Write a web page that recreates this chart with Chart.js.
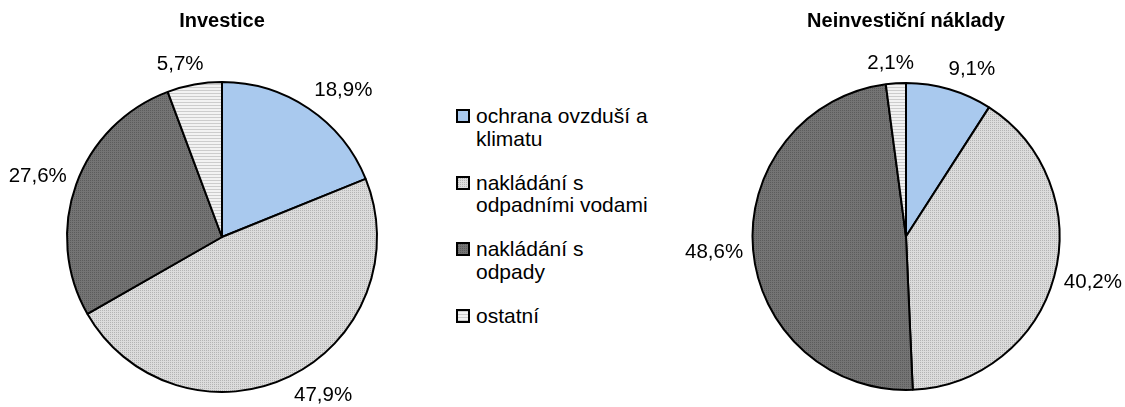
<!DOCTYPE html>
<html>
<head>
<meta charset="utf-8">
<script src="https://cdn.jsdelivr.net/npm/chart.js@4"></script>
<style>
  body { margin: 0; background: #fff; width: 1125px; height: 407px; overflow: hidden; position: relative;
         font-family: 'Liberation Sans', Arial, sans-serif; }
  canvas.pie { position: absolute; top: 0; }
  #legend { position: absolute; left: 456px; top: 105px; font-size: 21px; line-height: 22.5px; color: #000; }
  .item { display: flex; align-items: flex-start; margin-bottom: 21.5px; }
  .sw { width: 10px; height: 10px; border: 2px solid #000; margin-top: 4px; margin-right: 6px; flex: none; }
</style>
</head>
<body>
<canvas id="invChart" class="pie" width="445" height="407" style="left:0"></canvas>
<canvas id="neinvChart" class="pie" width="445" height="407" style="left:680px"></canvas>
<div id="legend"></div>

<script>
const FONT = "'Liberation Sans', Arial, sans-serif";

const categories = ['ochrana ovzduší a klimatu', 'nakládání s odpadními vodami', 'nakládání s odpady', 'ostatní'];
const legendLines = [['ochrana ovzduší a', 'klimatu'], ['nakládání s', 'odpadními vodami'], ['nakládání s', 'odpady'], ['ostatní']];
const investice = [18.9, 47.9, 27.6, 5.7];
const neinvesticni = [9.1, 40.2, 48.6, 2.1];

// small tiles for the hatched fills
function tile(w, h, draw) {
  const c = document.createElement('canvas');
  c.width = w; c.height = h;
  draw(c.getContext('2d'));
  return c;
}
const tiles = [
  tile(2, 2, g => { g.fillStyle = '#a9c9ee'; g.fillRect(0, 0, 2, 2); }),
  tile(2, 2, g => { g.fillStyle = '#dcdcdc'; g.fillRect(0, 0, 2, 2); g.fillStyle = '#b4b4b4'; g.fillRect(0, 0, 1, 1); }),
  tile(2, 2, g => { g.fillStyle = '#747474'; g.fillRect(0, 0, 2, 2); g.fillStyle = '#5c5c5c'; g.fillRect(0, 0, 1, 1); }),
  tile(1, 3, g => { g.fillStyle = '#f2f2f2'; g.fillRect(0, 0, 1, 3); g.fillStyle = '#cccccc'; g.fillRect(0, 0, 1, 1); })
];
const patCtx = document.createElement('canvas').getContext('2d');
const fills = tiles.map(t => patCtx.createPattern(t, 'repeat'));

// percent labels outside each slice: the label corner nearest the pie sits on the mid-angle ray
const pctLabels = {
  id: 'pctLabels',
  afterDatasetsDraw(chart) {
    const ctx = chart.ctx;
    const values = chart.data.datasets[0].data;
    ctx.save();
    ctx.font = '20.5px ' + FONT;
    ctx.fillStyle = '#000';
    ctx.textAlign = 'center';
    ctx.textBaseline = 'middle';
    const clamp = v => Math.max(-1, Math.min(1, v));
    chart.getDatasetMeta(0).data.forEach((arc, i) => {
      const p = arc.getProps(['x', 'y', 'startAngle', 'endAngle', 'outerRadius'], true);
      const mid = (p.startAngle + p.endAngle) / 2;
      const ux = Math.cos(mid), uy = Math.sin(mid);
      const text = values[i].toFixed(1).replace('.', ',') + '%';
      const w = ctx.measureText(text).width, h = 20;
      const r = p.outerRadius + 10;
      const cx = p.x + ux * r + clamp(ux * 3) * w / 2;
      const cy = p.y + uy * r + clamp(uy * 1.3) * h / 2;
      ctx.fillText(text, cx, cy);
    });
    ctx.restore();
  }
};

function makePie(id, values, title, pad, titleBottom) {
  return new Chart(document.getElementById(id), {
    type: 'pie',
    data: {
      labels: categories,
      datasets: [{ data: values, backgroundColor: fills, borderColor: '#000', borderWidth: 2 }]
    },
    options: {
      responsive: false,
      animation: false,
      layout: { padding: pad },
      plugins: {
        legend: { display: false },
        tooltip: { enabled: false },
        title: {
          display: true, text: title, color: '#000',
          font: { family: FONT, size: 20, weight: 'bold' },
          padding: { top: 9, bottom: titleBottom }
        }
      }
    },
    plugins: [pctLabels]
  });
}

makePie('invChart', investice, 'Investice', { left: 66, right: 67, top: 0, bottom: 14 }, 48);
makePie('neinvChart', neinvesticni, 'Neinvestiční náklady', { left: 71, right: 64, top: 0, bottom: 16 }, 49);

// legend between the two pies
const legend = document.getElementById('legend');
legendLines.forEach((lines, i) => {
  const item = document.createElement('div');
  item.className = 'item';
  const sw = document.createElement('div');
  sw.className = 'sw';
  sw.style.background = `url(${tiles[i].toDataURL()})`;
  const label = document.createElement('div');
  label.innerHTML = lines.join('<br>');
  item.appendChild(sw);
  item.appendChild(label);
  legend.appendChild(item);
});
</script>
</body>
</html>
